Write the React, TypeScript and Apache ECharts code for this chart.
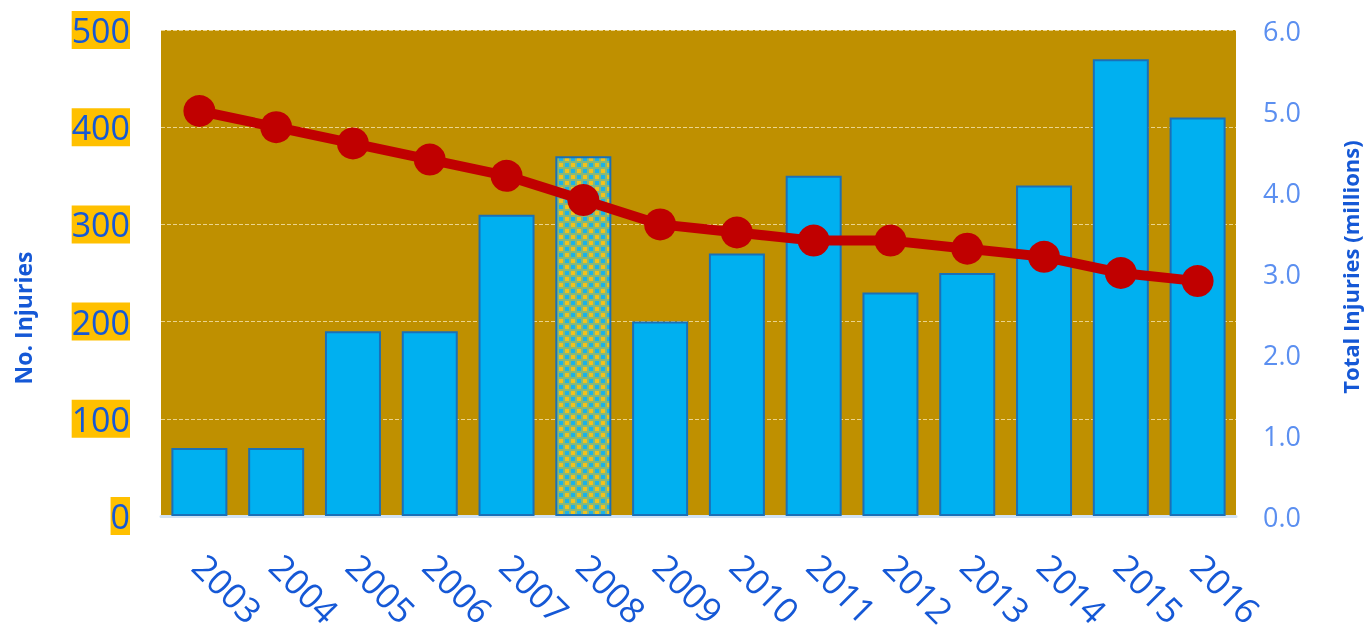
import React, { useEffect, useRef } from "react";
import * as echarts from "echarts";

const years = ["2003", "2004", "2005", "2006", "2007", "2008", "2009", "2010", "2011", "2012", "2013", "2014", "2015", "2016"];
const injuries = [70, 70, 190, 190, 310, 370, 200, 270, 350, 230, 250, 340, 470, 410];
const totalInjuries = [5.0, 4.8, 4.6, 4.4, 4.2, 3.9, 3.6, 3.5, 3.4, 3.4, 3.3, 3.2, 3.0, 2.9];
const highlightYear = "2008";
const leftTitle = "No. Injuries";
const rightTitle = "Total Injuries (millions)";

function makePattern(): HTMLCanvasElement {
  const c = document.createElement("canvas");
  c.width = 12;
  c.height = 12;
  const ctx = c.getContext("2d")!;
  ctx.fillStyle = "#86b87a";
  ctx.fillRect(0, 0, 12, 12);
  ctx.fillStyle = "#f2c21c";
  ctx.fillRect(1, 1, 4, 4);
  ctx.fillRect(7, 7, 4, 4);
  ctx.fillStyle = "#1cb2e6";
  ctx.fillRect(7, 1, 4, 4);
  ctx.fillRect(1, 7, 4, 4);
  return c;
}

export default function App() {
  const ref = useRef<HTMLDivElement>(null);
  useEffect(() => {
    if (!ref.current) return;
    const chart = echarts.init(ref.current, null, { renderer: "svg" });
    const pat = makePattern();
    const font = "'Open Sans', 'Noto Sans', sans-serif";
    const barData = injuries.map((v, i) =>
      years[i] === highlightYear
        ? {
            value: v,
            itemStyle: {
              color: { image: pat, repeat: "repeat", imageWidth: 12, imageHeight: 12 } as any,
            },
          }
        : v
    );
    chart.setOption({
      animation: false,
      textStyle: { fontFamily: font },
      grid: { left: 161, right: 131, top: 30, bottom: 118, backgroundColor: "#bf9000", show: true, borderWidth: 0 },
      xAxis: {
        type: "category",
        data: years,
        axisLine: { show: true, lineStyle: { color: "#d3e3f4", width: 3 } },
        axisTick: { show: false },
        axisLabel: {
          rotate: -45,
          margin: 44,
          fontSize: 35,
          color: "#1558d6",
          fontFamily: font,
          interval: 0,
        },
      },
      yAxis: [
        {
          type: "value",
          min: 0,
          max: 500,
          interval: 100,
          axisLine: { show: false },
          axisTick: { show: false },
          splitLine: { show: true, lineStyle: { color: "#ead48e", type: "dashed", width: 1 } },
          axisLabel: {
            fontSize: 34,
            color: "#1558d6",
            backgroundColor: "#ffc000",
            padding: [2, 0, 2, 0],
            margin: 31,
            fontFamily: font,
          },
        },
        {
          type: "value",
          min: 0,
          max: 6,
          interval: 1,
          axisLine: { show: false },
          axisTick: { show: false },
          splitLine: { show: false },
          axisLabel: {
            fontSize: 27,
            color: "#5b8ff0",
            margin: 27,
            fontFamily: font,
            formatter: (v: number) => v.toFixed(1),
          },
        },
      ],
      graphic: [
        {
          type: "text",
          x: 23,
          y: 318,
          rotation: Math.PI / 2,
          style: {
            text: leftTitle,
            fontSize: 23,
            fontWeight: "bold",
            fill: "#1558d6",
            fontFamily: font,
            align: "center",
            verticalAlign: "middle",
          },
        },
        {
          type: "text",
          x: 1350,
          y: 267,
          rotation: Math.PI / 2,
          style: {
            text: rightTitle,
            fontSize: 22,
            fontWeight: "bold",
            fill: "#1558d6",
            fontFamily: font,
            align: "center",
            verticalAlign: "middle",
          },
        },
      ],
      series: [
        {
          type: "bar",
          data: barData,
          yAxisIndex: 0,
          barWidth: 56,
          itemStyle: { color: "#00b0f0", borderColor: "#1a70b8", borderWidth: 2 },
        },
        {
          type: "line",
          data: totalInjuries,
          yAxisIndex: 1,
          symbol: "circle",
          symbolSize: 32,
          lineStyle: { color: "#c00000", width: 10 },
          itemStyle: { color: "#c00000" },
        },
      ],
    });
    return () => chart.dispose();
  }, []);
  return <div ref={ref} style={{ position: "fixed", left: 0, top: 0, width: 1367, height: 634 }} />;
}
